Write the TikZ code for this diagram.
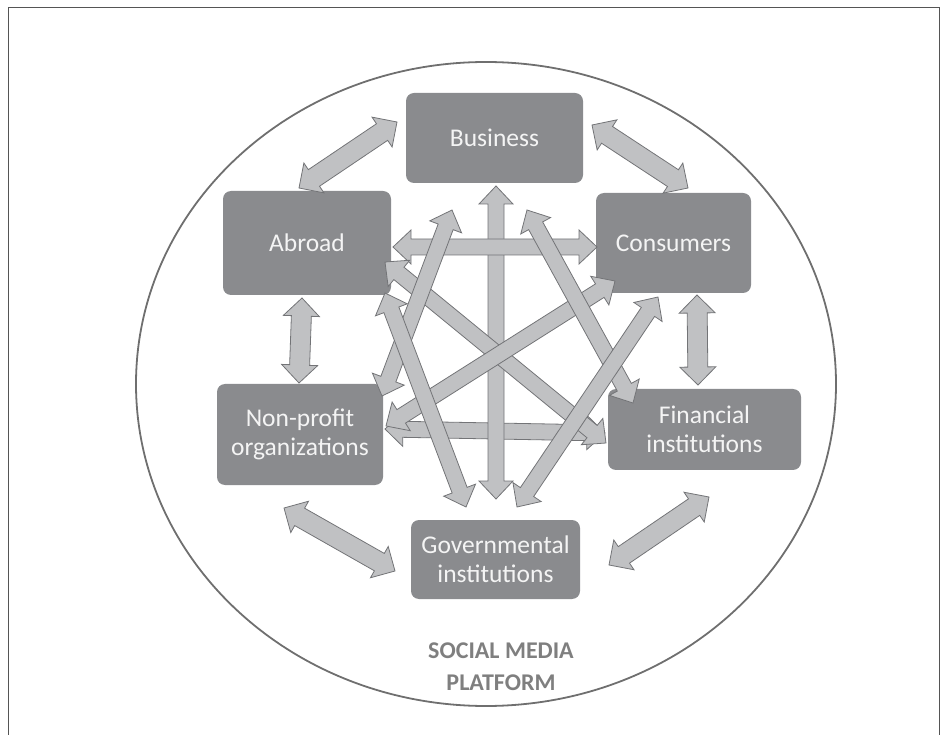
\documentclass[tikz,border=0pt]{standalone}
\usepackage{fontspec}
\setmainfont{Carlito}
\usetikzlibrary{calc}
\definecolor{boxgray}{HTML}{8A8B8E}
\definecolor{boxtext}{HTML}{F4F4F4}
\definecolor{arrfill}{HTML}{C0C1C3}
\definecolor{arrline}{HTML}{737477}
\definecolor{ellline}{HTML}{6F6F6F}
\definecolor{labgray}{HTML}{7F7F7F}
\definecolor{framegray}{HTML}{555555}
\tikzset{
  entity/.style={rectangle, rounded corners=8pt, fill=boxgray, text=boxtext,
    font=\fontsize{25.5}{29}\selectfont, align=center, inner sep=0pt, draw=none},
  blockarrow/.style={fill=arrfill, draw=arrline, line width=0.8pt, line join=miter},
  platform/.style={text=labgray, font=\bfseries\fontsize{24}{32}\selectfont, align=center, inner sep=0pt}
}
% #1,#2 tips; #3 half shaft width; #4 half head width; #5 head length
\newcommand{\blockarr}[5]{%
  \path[blockarrow] (#1)
   -- ($(#1)!#5!(#2)!#4!90:(#2)$) -- ($(#1)!#5!(#2)!#3!90:(#2)$)
   -- ($(#2)!#5!(#1)!#3!-90:(#1)$) -- ($(#2)!#5!(#1)!#4!-90:(#1)$)
   -- (#2)
   -- ($(#2)!#5!(#1)!#4!90:(#1)$) -- ($(#2)!#5!(#1)!#3!90:(#1)$)
   -- ($(#1)!#5!(#2)!#3!-90:(#2)$) -- ($(#1)!#5!(#2)!#4!-90:(#2)$) -- cycle;}
\newcommand{\outerarr}[2]{\blockarr{#1}{#2}{10pt}{18pt}{18pt}}
\newcommand{\innerarr}[2]{\blockarr{#1}{#2}{8pt}{17pt}{18pt}}
\begin{document}
\begin{tikzpicture}[x=1pt,y=-1pt]
\useasboundingbox (0,0) rectangle (946,735);
% frame
\draw[framegray, line width=1pt] (8,736) -- (8,8) -- (939,8) -- (939,736);
% platform ellipse
\draw[ellline, line width=1.8pt] (486,384) ellipse [x radius=350, y radius=322];
% entities
\node[entity, minimum width=177pt, minimum height=90pt]  (bus) at (494.5,138) {Business};
\node[entity, minimum width=168pt, minimum height=104pt] (abr) at (307,243) {Abroad};
\node[entity, minimum width=155pt, minimum height=100pt] (con) at (673.5,243) {Consumers};
\node[entity, minimum width=166pt, minimum height=101pt] (npo) at (300,434.5) {Non-profit\\organizations};
\node[entity, minimum width=193pt, minimum height=81pt]  (fin) at (704.5,429.5) {Financial\\institutions};
\node[entity, minimum width=169pt, minimum height=79pt]  (gov) at (495.5,559.5) {Governmental\\institutions};
\node[platform] (plat) at (501,667) {SOCIAL MEDIA\\PLATFORM};
% arrow end points
\coordinate (o1a) at (397,122); \coordinate (o1b) at (299,188);
\coordinate (o2a) at (592,125); \coordinate (o2b) at (688,188);
\coordinate (o3a) at (302,298); \coordinate (o3b) at (299,383);
\coordinate (o4a) at (697,295); \coordinate (o4b) at (698,385);
\coordinate (o5a) at (284,508); \coordinate (o5b) at (395,571);
\coordinate (o6a) at (709,497); \coordinate (o6b) at (609,565);
\coordinate (i1a) at (496,186); \coordinate (i1b) at (496,499);
\coordinate (i2a) at (393,247); \coordinate (i2b) at (597,247);
\coordinate (i3a) at (385,429); \coordinate (i3b) at (605,433);
\coordinate (i4a) at (385,262); \coordinate (i4b) at (606,443);
\coordinate (i5a) at (452,210); \coordinate (i5b) at (382,396);
\coordinate (i6a) at (527,210); \coordinate (i6b) at (633,403);
\coordinate (i7a) at (615,281); \coordinate (i7b) at (386,426);
\coordinate (i8a) at (385,293); \coordinate (i8b) at (466,507);
\coordinate (i9a) at (658,297); \coordinate (i9b) at (517,507);
% outer ring
\outerarr{o1a}{o1b}
\outerarr{o2a}{o2b}
\outerarr{o3a}{o3b}
\outerarr{o4a}{o4b}
\outerarr{o5a}{o5b}
\outerarr{o6a}{o6b}
% inner web
\innerarr{i3a}{i3b}
\innerarr{i1a}{i1b}
\innerarr{i2a}{i2b}
\innerarr{i4a}{i4b}
\innerarr{i7a}{i7b}
\innerarr{i5a}{i5b}
\innerarr{i6a}{i6b}
\innerarr{i8a}{i8b}
\innerarr{i9a}{i9b}
\end{tikzpicture}
\end{document}
